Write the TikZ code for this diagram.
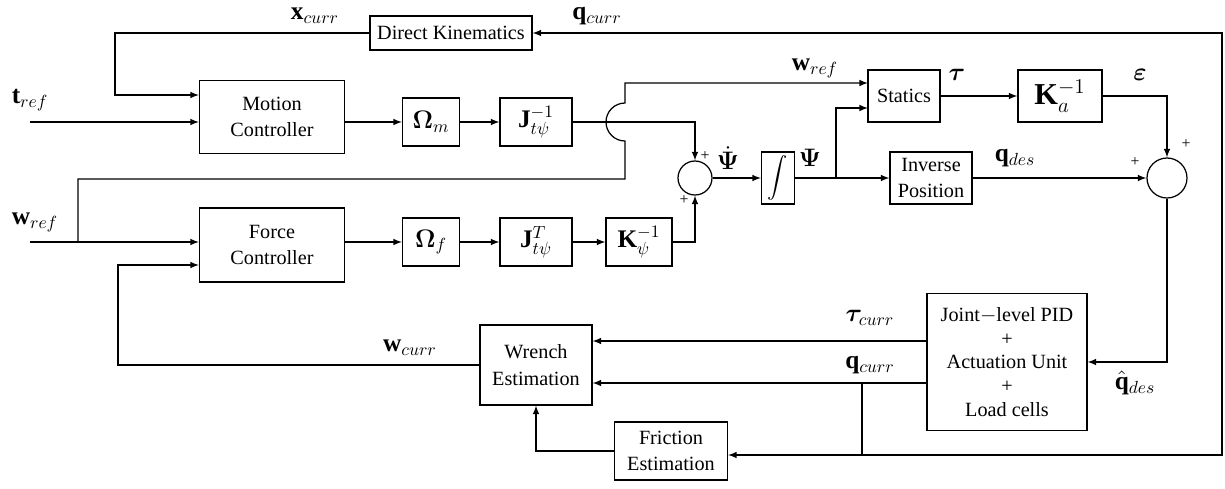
\documentclass[tikz,border=0pt]{standalone}
\usepackage{amsmath,amssymb,bm}
\usepackage{fontspec}
\setmainfont{Liberation Serif}
\usetikzlibrary{positioning,calc}
\tikzstyle{block}=[draw, line width=0.7pt, align=center, inner sep=2pt, font=\fontsize{11.5}{15}\selectfont]
\tikzstyle{mblock}=[block, inner sep=0pt, font=\Large]
\tikzstyle{sumc}=[draw, circle, line width=0.7pt, inner sep=0pt]
\tikzstyle{lbl}=[inner sep=0pt, font=\Large]
\tikzstyle{pls}=[inner sep=0pt, font=\small]

\begin{document}
\begin{tikzpicture}[x=0.02cm, y=-0.02cm, >=latex, line width=0.7pt]
    \useasboundingbox (0,0) rectangle (1225,488);

    % blocks
    \node[block, minimum width=3.24cm, minimum height=0.68cm] (dk) at (451,33) {Direct Kinematics};
    \node[block, minimum width=2.9cm, minimum height=1.46cm] (mc) at (272,117) {Motion\\Controller};
    \node[mblock, minimum width=1.14cm, minimum height=0.96cm] (om) at (431,122) {$\bm{\Omega}_m$};
    \node[mblock, minimum width=1.44cm, minimum height=0.96cm] (jinv) at (536,122) {$\mathbf{J}_{t\psi}^{-1}$};
    \node[block, minimum width=2.9cm, minimum height=1.48cm] (fc) at (272,245) {Force\\Controller};
    \node[mblock, minimum width=1.14cm, minimum height=0.96cm] (of) at (431,242) {$\bm{\Omega}_f$};
    \node[mblock, minimum width=1.44cm, minimum height=0.96cm] (jt) at (536,242) {$\mathbf{J}_{t\psi}^{T}$};
    \node[mblock, minimum width=1.32cm, minimum height=0.96cm] (kpsi) at (639,242) {$\mathbf{K}_{\psi}^{-1}$};
    \node[sumc, minimum size=0.68cm] (s1) at (695,178) {};
    \node[block, minimum width=0.66cm, minimum height=1.0cm] (int) at (778,178) {$\displaystyle\int$};
    \node[block, minimum width=1.64cm, minimum height=1.04cm] (ip) at (931,178) {Inverse\\Position};
    \node[block, minimum width=1.44cm, minimum height=1.04cm] (st) at (904,96) {Statics};
    \node[mblock, minimum width=1.68cm, minimum height=1.04cm, font=\LARGE] (ka) at (1060,96) {$\mathbf{K}_{a}^{-1}$};
    \node[sumc, minimum size=0.8cm] (s2) at (1167,178) {};
    \node[block, minimum width=3.2cm, minimum height=2.74cm, font=\fontsize{11.5}{13.6}\selectfont] (pid) at (1007,362)
        {Joint$-$level PID\\+\\Actuation Unit\\+\\Load cells};
    \node[block, minimum width=2.24cm, minimum height=1.6cm] (we) at (536,365) {Wrench\\Estimation};
    \node[block, minimum width=2.26cm, minimum height=1.16cm] (fe) at (671,451) {Friction\\Estimation};

    % labels
    \node[lbl] (lxc) at (315,16) {$\mathbf{x}_{curr}$};
    \node[lbl] (lqc) at (597,16) {$\mathbf{q}_{curr}$};
    \node[lbl] (ltr) at (30,100) {$\mathbf{t}_{ref}$};
    \node[lbl] (lwr) at (35,222) {$\mathbf{w}_{ref}$};
    \node[lbl] (lws) at (815,68) {$\mathbf{w}_{ref}$};
    \node[lbl] (ltau) at (957,75) {$\bm{\tau}$};
    \node[lbl] (leps) at (1140,75) {$\bm{\varepsilon}$};
    \node[lbl] (lpd) at (728,158) {$\dot{\bm{\Psi}}$};
    \node[lbl] (lp) at (810,158) {$\bm{\Psi}$};
    \node[lbl] (lqd) at (1015,158) {$\mathbf{q}_{des}$};
    \node[lbl] (lqh) at (1135,383) {$\hat{\mathbf{q}}_{des}$};
    \node[lbl] (ltc) at (870,318) {$\bm{\tau}_{curr}$};
    \node[lbl] (lqc2) at (870,365) {$\mathbf{q}_{curr}$};
    \node[lbl] (lwc) at (410,348) {$\mathbf{w}_{curr}$};
    \node[pls] (p1) at (705,156) {+};
    \node[pls] (p2) at (684,200) {+};
    \node[pls] (p3) at (1186,144) {+};
    \node[pls] (p4) at (1135,162) {+};

    % helper points
    \coordinate (tin) at (30,122);
    \coordinate (win) at (30,242);
    \coordinate (wb) at (78,242);
    \coordinate (dkc) at (115,95);
    \coordinate (fbk) at (118,265);
    \coordinate (jx) at (625,179);
    \coordinate (st1) at (868,83);
    \coordinate (st2) at (868,108);
    \coordinate (pb) at (836,178);
    \coordinate (tb) at (900,341);
    \coordinate (qb) at (862,383);
    \coordinate (qd) at (862,455);
    \coordinate (rc) at (1222,0);

    % connections
    \draw[->] (tin) -- (mc.west |- tin);
    \draw[->] (dk.west) -| (dkc) -- (mc.west |- dkc);
    \draw[->] (mc.east |- om) -- (om.west);
    \draw[->] (om.east) -- (jinv.west);
    \draw[->] (jinv.east) -| (s1.north);
    \draw[->] (win) -- (fc.west |- win);
    \draw[->] (fc.east |- of) -- (of.west);
    \draw[->] (of.east) -- (jt.west);
    \draw[->] (jt.east) -- (kpsi.west);
    \draw[->] (kpsi.east) -| (s1.south);
    \draw[->] (wb) |- (jx) -- ++(0,-38) arc[start angle=-90, end angle=-270, radius=0.38cm] |- (st1);
    \draw[->] (s1.east) -- (int.west);
    \draw[->] (int.east) -- (ip.west);
    \draw[->] (pb) |- (st2);
    \draw[->] (st.east) -- (ka.west);
    \draw[->] (ka.east) -| (s2.north);
    \draw[->] (ip.east) -- (s2.west);
    \draw[->] (s2.south) |- (pid.east);
    \draw[->] (pid.west |- tb) -- (we.east |- tb);
    \draw[->] (pid.west |- qb) -- (we.east |- qb);
    \draw (qb) -- (qd);
    \draw[->] (qd) -- (fe.east |- qd);
    \draw[->] (qd) -- (rc |- qd) -- (rc |- dk) -- (dk.east);
    \draw[->] (fe.west) -| (we.south);
    \draw[->] (we.west) -| (fbk) -- (fc.west |- fbk);

\end{tikzpicture}
\end{document}
